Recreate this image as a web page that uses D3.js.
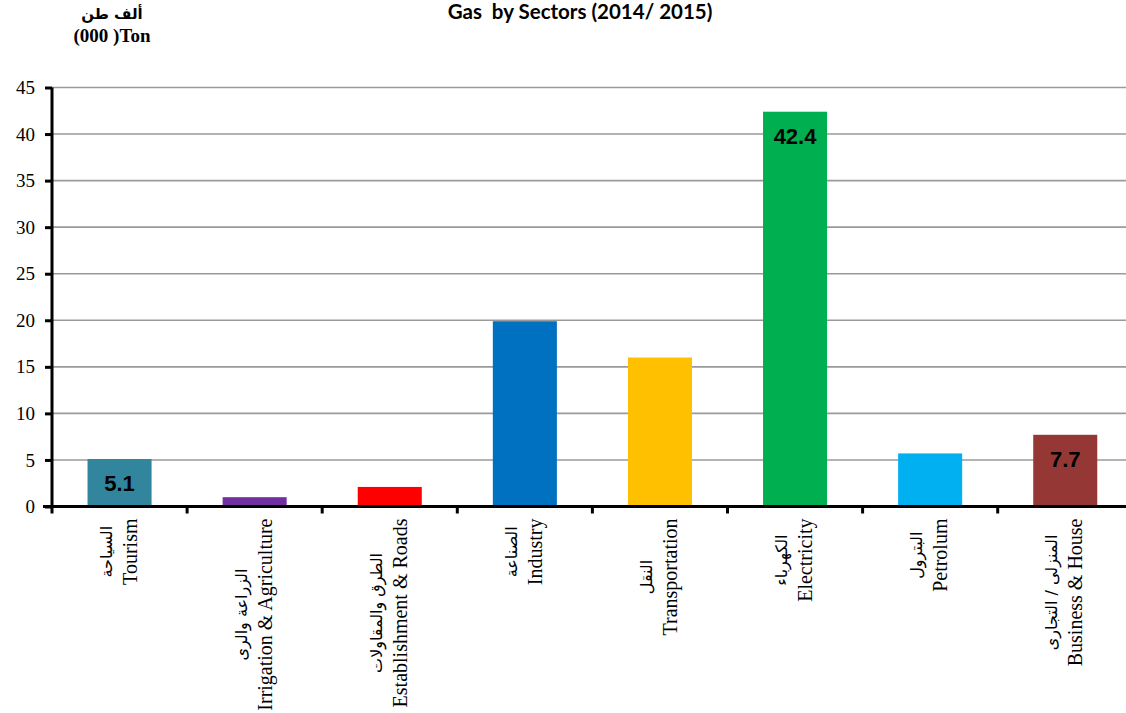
<!DOCTYPE html>
<html><head><meta charset="utf-8">
<script src="https://cdn.jsdelivr.net/npm/d3@7"></script>
<style>body{margin:0;background:#fff}svg{display:block}</style>
</head><body>
<svg id="c" width="1126" height="713"></svg>
<script>
const categoriesEn = ["Tourism","Irrigation & Agriculture","Establishment & Roads","Industry","Transportation","Electricity","Petrolum","Business & House"];
const categoriesAr = ["السياحة","الزراعة والرى","الطرق والمقاولات","الصناعة","النقل","الكهرباء","البترول","المنزلى / التجارى"];
const values = [5.1, 1.0, 2.1, 19.9, 16.0, 42.4, 5.7, 7.7];
const colors = ["#31859C","#7030A0","#FF0000","#0070C0","#FFC000","#00B050","#00B0F0","#953735"];
const shownLabels = [true,false,false,false,false,true,false,true];
const yTicks = [0,5,10,15,20,25,30,35,40,45];

(function(){
const svg = d3.select("#c");
const left = 52, plotTop = 87.5, bottom = 506.5, step = 135.1;
const n = categoriesEn.length;
const x = d3.scaleBand().domain(d3.range(n)).range([left, left + step*n]).paddingInner(0.526).paddingOuter(0.263);
const y = d3.scaleLinear().domain([0,45]).range([bottom, plotTop]);

// gridlines
svg.append("g").selectAll("line").data(yTicks.filter(t=>t>0)).join("line")
  .attr("x1", left).attr("x2", 1126).attr("y1", d=>y(d)).attr("y2", d=>y(d))
  .attr("stroke","#9a9a9a").attr("stroke-width",1.6);

// bars
svg.append("g").selectAll("rect").data(values).join("rect")
  .attr("x",(d,i)=>x(i)).attr("width",x.bandwidth())
  .attr("y",d=>y(d)).attr("height",d=>bottom-y(d))
  .attr("fill",(d,i)=>colors[i]);

// data labels
svg.append("g").selectAll("text").data(values.map((v,i)=>({v,i})).filter(d=>shownLabels[d.i])).join("text")
  .attr("x",d=>x(d.i)+x.bandwidth()/2).attr("y",d=>y(d.v)+32)
  .attr("text-anchor","middle").attr("font-family","Liberation Sans, Arial, sans-serif")
  .attr("font-weight","bold").attr("font-size",22).attr("fill","#000")
  .text(d=>d.v.toFixed(1));

// y axis
const yAxis = d3.axisLeft(y).tickValues(yTicks).tickSize(7).tickFormat(d3.format("d"));
const gy = svg.append("g").attr("transform",`translate(${left},0)`).call(yAxis);
gy.select(".domain").attr("stroke","#000").attr("stroke-width",3).attr("d",`M0,${plotTop}V${bottom}`);
gy.selectAll(".tick line").attr("stroke","#000").attr("stroke-width",3);
gy.selectAll(".tick text").attr("font-family","Liberation Serif, Times New Roman, serif").attr("font-size",19).attr("fill","#000").attr("x",-17);

// x axis line and ticks at band boundaries
const bounds = d3.range(n+1).map(i => x.range()[0] + i*x.step());
svg.append("line").attr("x1",left-9).attr("x2",1126).attr("y1",bottom).attr("y2",bottom).attr("stroke","#000").attr("stroke-width",3);
svg.append("g").selectAll("line").data(bounds).join("line")
  .attr("x1",d=>d).attr("x2",d=>d).attr("y1",bottom).attr("y2",bottom+7)
  .attr("stroke","#000").attr("stroke-width",3);

// x labels
const labelTop = 518.5;
categoriesEn.forEach((en,i)=>{
  const cx = x(i)+x.bandwidth()/2;
  const g = svg.append("g").attr("transform",`translate(${cx},${labelTop}) rotate(-90)`);
  const tEn = g.append("text").attr("font-family","Liberation Serif, Times New Roman, serif").attr("font-size",20).attr("fill","#000").attr("text-anchor","middle").text(en);
  const tAr = g.append("text").attr("font-family","DejaVu Sans, Noto Sans, sans-serif").attr("font-size",16).attr("fill","#000").attr("text-anchor","middle").attr("direction","rtl").text(categoriesAr[i]);
  const L = Math.max(tEn.node().getComputedTextLength(), tAr.node().getComputedTextLength());
  tEn.attr("x",-L/2).attr("y",17);
  tAr.attr("x",-L/2).attr("y",-8);
});

// titles
svg.append("text").attr("x",580).attr("y",19).attr("text-anchor","middle")
  .attr("font-family","Lato, Open Sans, sans-serif").attr("font-weight","bold").attr("font-size",20.5).attr("fill","#000")
  .style("white-space","pre").text("Gas  by Sectors (2014/ 2015)");
svg.append("text").attr("x",112).attr("y",19).attr("text-anchor","middle")
  .attr("font-family","DejaVu Sans, sans-serif").attr("font-weight","bold").attr("font-size",15).attr("fill","#000")
  .text("ألف طن");
svg.append("text").attr("x",112).attr("y",42).attr("text-anchor","middle")
  .attr("font-family","Liberation Serif, Times New Roman, serif").attr("font-weight","bold").attr("font-size",19).attr("fill","#000")
  .style("white-space","pre").text("(000 )Ton");
})();
</script>
</body></html>
